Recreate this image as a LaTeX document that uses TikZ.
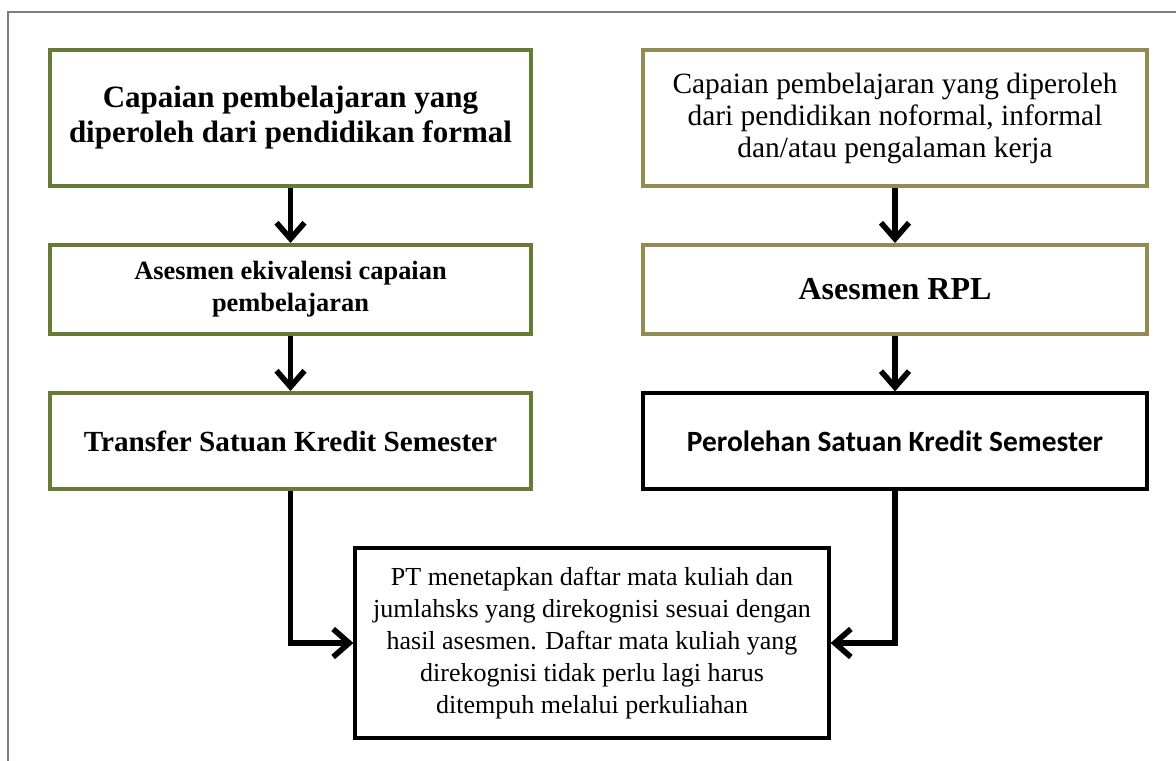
\documentclass[tikz,border=0pt]{standalone}
\usepackage{fontspec}
\setmainfont{Liberation Serif}
\newfontfamily\calibrifont{Carlito}
\usetikzlibrary{arrows.meta,positioning}
\definecolor{OliveC}{RGB}{102,124,54}
\definecolor{TanC}{RGB}{148,138,84}
\definecolor{FrameC}{RGB}{125,125,125}
\tikzset{
  box/.style={rectangle,draw,line width=2pt,fill=white,align=center,inner sep=2pt},
  lbox/.style={box,draw=OliveC,minimum width=240.5pt},
  rbox/.style={box,draw=TanC,minimum width=252pt},
  kbox/.style={box,draw=black,line width=1.6pt},
  bigb/.style={font=\fontsize{14.6pt}{17.5pt}\selectfont\bfseries},
  smallb/.style={font=\fontsize{13.2pt}{16pt}\selectfont\bfseries},
  flow/.style={-{Straight Barb[length=8pt,width=14pt]},line width=2.8pt},
}

\begin{document}
\begin{tikzpicture}[x=0.5pt,y=-0.5pt]
  \useasboundingbox (0,0) rectangle (1176,760);
  % frame of the page
  \draw[FrameC,line width=1pt] (8,800) |- (1200,12);
  % left column
  \node[lbox,font=\fontsize{15.5pt}{17.5pt}\selectfont\bfseries,minimum height=68pt] (formal) at (290.5,118)
    {Capaian pembelajaran yang\\diperoleh dari pendidikan formal};
  \node[lbox,smallb,minimum height=44.5pt] (ekiv) at (290.5,289.5)
    {Asesmen ekivalensi capaian\\pembelajaran};
  \node[lbox,bigb,minimum height=48pt] (transfer) at (290.5,441)
    {Transfer Satuan Kredit Semester};
  % right column
  \node[rbox,font=\fontsize{14.7pt}{16pt}\selectfont,minimum height=68pt] (nonformal) at (895,118)
    {Capaian pembelajaran yang diperoleh\\dari pendidikan noformal, informal\\dan/atau pengalaman kerja};
  \node[rbox,font=\fontsize{16pt}{18pt}\selectfont\bfseries,minimum height=44.5pt] (rpl) at (895,289.5)
    {Asesmen RPL};
  \node[kbox,font=\fontsize{14.7pt}{17pt}\calibrifont\bfseries,minimum width=252pt,minimum height=48pt] (perolehan) at (895,441)
    {Perolehan Satuan Kredit Semester};
  % result
  \node[kbox,font=\fontsize{13pt}{16pt}\selectfont,minimum width=237pt,minimum height=95pt] (hasil) at (592,643)
    {PT menetapkan daftar mata kuliah dan\\jumlahsks yang direkognisi sesuai dengan\\hasil asesmen. Daftar mata kuliah yang\\direkognisi tidak perlu lagi harus\\ditempuh melalui perkuliahan};
  % arrows
  \draw[flow] (formal) -- (ekiv);
  \draw[flow] (ekiv) -- (transfer);
  \draw[flow] (nonformal) -- (rpl);
  \draw[flow] (rpl) -- (perolehan);
  \draw[flow] (transfer.south) |- (hasil.west);
  \draw[flow] (perolehan.south) |- (hasil.east);
\end{tikzpicture}
\end{document}
